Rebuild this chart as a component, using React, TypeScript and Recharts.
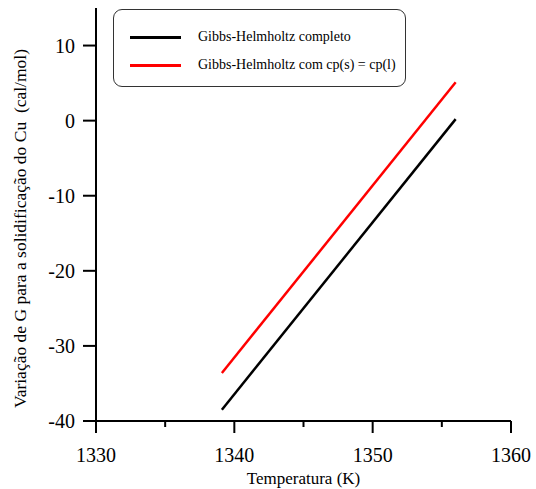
import React from 'react';
import { LineChart, Line, XAxis, YAxis, Legend } from 'recharts';

// values
const temperatures = [1339.1, 1356];
const gCompleto = [-38.5, 0.2];
const gCpIgual = [-33.6, 5.1];

const xTicks = [1330, 1335, 1340, 1345, 1350, 1355, 1360];
const yTicks = [-40, -30, -20, -10, 0, 10];

const seriesNames = ['Gibbs-Helmholtz completo', 'Gibbs-Helmholtz com cp(s) = cp(l)'];
const seriesColors = ['#000000', '#ff0000'];

const data = temperatures.map((t, i) => ({ t, completo: gCompleto[i], cpIgual: gCpIgual[i] }));

const FONT = '"Liberation Serif", "Times New Roman", serif';

// x ticks: long + label on the tens, short unlabeled on the fives
const XTick = (props: any) => {
  const { x, y, payload } = props;
  const major = payload.value % 10 === 0;
  return (
    <g>
      <line x1={x} x2={x} y1={y} y2={y + (major ? 12 : 6)} stroke="#000" strokeWidth={2} />
      {major && (
        <text x={x} y={y + 41} textAnchor="middle" style={{ fontFamily: FONT, fontSize: 20 }} fill="#000">
          {payload.value}
        </text>
      )}
    </g>
  );
};

const YTick = (props: any) => {
  const { x, y, payload } = props;
  return (
    <g>
      <line x1={x - 13} x2={x} y1={y} y2={y} stroke="#000" strokeWidth={2} />
      <text x={x - 21} y={y + 7} textAnchor="end" style={{ fontFamily: FONT, fontSize: 20 }} fill="#000">
        {payload.value}
      </text>
    </g>
  );
};

const YLabel = (props: any) => {
  const { viewBox } = props;
  const cx = 26;
  const cy = viewBox.y + viewBox.height / 2 + 14;
  return (
    <text
      x={cx}
      y={cy}
      transform={`rotate(-90 ${cx} ${cy})`}
      textAnchor="middle"
      xmlSpace="preserve"
      style={{ fontFamily: FONT, fontSize: 17.5, whiteSpace: 'pre' }}
      fill="#000"
    >
      Variação de G para a solidificação do Cu  (cal/mol)
    </text>
  );
};

const XLabel = (props: any) => {
  const { viewBox } = props;
  return (
    <text
      x={viewBox.x + viewBox.width / 2}
      y={484}
      textAnchor="middle"
      style={{ fontFamily: FONT, fontSize: 17 }}
      fill="#000"
    >
      Temperatura (K)
    </text>
  );
};

const LegendBox = () => (
  <div
    style={{
      width: 291,
      height: 76,
      border: '1px solid #333',
      borderRadius: 9,
      background: '#fff',
      fontFamily: FONT,
      fontSize: 14,
      position: 'relative',
      whiteSpace: 'nowrap',
    }}
  >
    {seriesNames.map((name, i) => (
      <div key={name} style={{ position: 'absolute', left: 16, top: 19 + i * 28, display: 'flex', alignItems: 'center' }}>
        <div style={{ width: 51, height: 3, background: seriesColors[i] }} />
        <span style={{ marginLeft: 17, lineHeight: '16px' }}>{name}</span>
      </div>
    ))}
  </div>
);

export default function App() {
  return (
    <div style={{ position: 'absolute', left: 0, top: 0, background: '#fff' }}>
      <LineChart width={536} height={489} data={data} margin={{ top: 8, right: 25, bottom: 0, left: 0 }}>
        <XAxis
          type="number"
          dataKey="t"
          domain={[1330, 1360]}
          ticks={xTicks}
          allowDataOverflow
          axisLine={{ stroke: '#000', strokeWidth: 2 }}
          tickLine={false}
          tickSize={0}
          tickMargin={0}
          tick={<XTick />}
          height={68}
          label={<XLabel />}
        />
        <YAxis
          type="number"
          domain={[-40, 15]}
          ticks={yTicks}
          allowDataOverflow
          width={96}
          axisLine={{ stroke: '#000', strokeWidth: 2 }}
          tickLine={false}
          tickSize={0}
          tickMargin={0}
          tick={<YTick />}
          label={<YLabel />}
        />
        <Legend
          layout="vertical"
          align="center"
          verticalAlign="middle"
          wrapperStyle={{ left: 113, top: 9, width: 293, height: 78 }}
          content={<LegendBox />}
        />
        <Line type="linear" dataKey="completo" stroke={seriesColors[0]} strokeWidth={2.5} dot={false} isAnimationActive={false} />
        <Line type="linear" dataKey="cpIgual" stroke={seriesColors[1]} strokeWidth={2.5} dot={false} isAnimationActive={false} />
      </LineChart>
    </div>
  );
}
